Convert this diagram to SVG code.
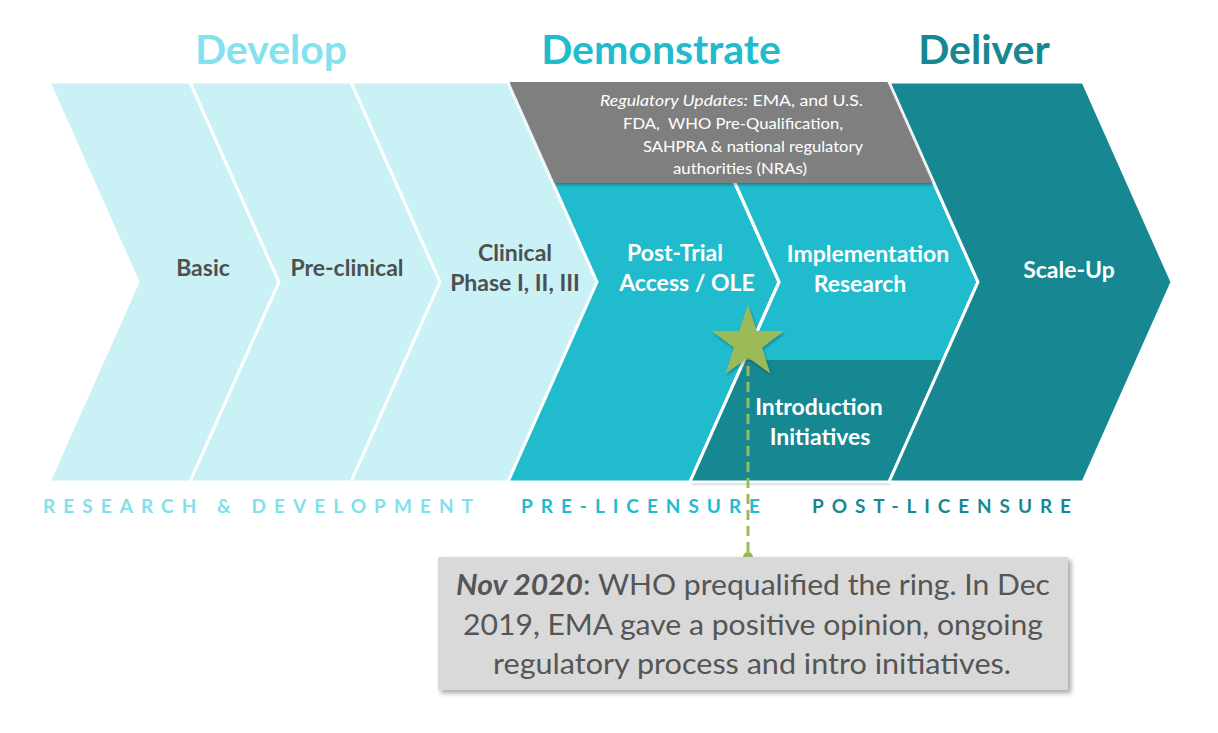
<svg xmlns="http://www.w3.org/2000/svg" width="1218" height="733" viewBox="0 0 1218 733">
  <defs>
    <filter id="shadow" x="-10%" y="-10%" width="130%" height="140%">
      <feDropShadow dx="3" dy="3" stdDeviation="2.5" flood-color="#000" flood-opacity="0.35"/>
    </filter>
    <filter id="softshadow" x="-10%" y="-10%" width="130%" height="140%">
      <feDropShadow dx="1" dy="2" stdDeviation="1.5" flood-color="#000" flood-opacity="0.3"/>
    </filter>
  </defs>
  <style>
    .light { fill: #C9F1F6; stroke: #FFFFFF; stroke-width: 3; stroke-linejoin: miter; }
    .mid { fill: #20BCCE; stroke: #FFFFFF; stroke-width: 3; }
    .dark { fill: #178892; stroke: #FFFFFF; stroke-width: 3; }
    .outline { fill: none; stroke: #FFFFFF; stroke-width: 3; }
    .hdr { font-family: Lato, "Liberation Sans", sans-serif; font-weight: bold; font-size: 41px; text-anchor: middle; }
    .lbl { font-family: Lato, "Liberation Sans", sans-serif; font-weight: bold; font-size: 23px; text-anchor: middle; }
    .dk { fill: #4F4F4F; }
    .wt { fill: #FFFFFF; }
    .reg { font-family: Lato, "Liberation Sans", sans-serif; font-size: 16px; fill: #FFFFFF; }
    .phase { font-family: Lato, "Liberation Sans", sans-serif; font-weight: bold; font-size: 19px; }
    .note { font-family: Lato, "Liberation Sans", sans-serif; font-size: 28px; fill: #555555; text-anchor: middle; }
  </style>

  <!-- Headers -->
  <g id="headers">
    <text class="hdr" x="271" y="64" fill="#84E2EE">Develop</text>
    <text class="hdr" x="661" y="64" fill="#20BCCE">Demonstrate</text>
    <text class="hdr" x="984" y="64" fill="#178892">Deliver</text>
  </g>

  <!-- Develop chevrons -->
  <g id="basic">
    <polygon class="light" points="49,82 190,82 279,282 190,482 49,482 138,282"/>
    <text class="lbl dk" x="203" y="276">Basic</text>
  </g>
  <g id="preclinical">
    <polygon class="light" points="190,82 351,82 440,282 351,482 190,482 279,282"/>
    <text class="lbl dk" x="347" y="276">Pre-clinical</text>
  </g>
  <g id="clinical">
    <polygon class="light" points="351,82 508,82 597,282 508,482 351,482 440,282"/>
    <text class="lbl dk" x="515" y="261">Clinical</text>
    <text class="lbl dk" x="515" y="291">Phase I, II, III</text>
  </g>

  <!-- Demonstrate chevrons -->
  <g id="posttrial">
    <polygon class="mid" points="508,82 690,82 779,282 690,482 508,482 597,282"/>
    <text class="lbl wt" x="675" y="261">Post-Trial</text>
    <text class="lbl wt" x="687" y="291">Access / OLE</text>
  </g>
  <g id="implementation">
    <polygon class="mid" points="690,82 889,82 978,282 889,482 690,482 779,282"/>
    <text class="lbl wt" x="868" y="262">Implementation</text>
    <text class="lbl wt" x="860" y="292">Research</text>
  </g>
  <g id="introduction">
    <polygon fill="#178892" filter="url(#softshadow)" points="744.3,360 943.3,360 889,482 690,482"/>
    <polygon class="outline" points="690,82 889,82 978,282 889,482 690,482 779,282"/>
    <text class="lbl wt" x="819" y="415">Introduction</text>
    <text class="lbl wt" x="820" y="445">Initiatives</text>
  </g>

  <!-- Deliver chevron -->
  <g id="scaleup">
    <polygon class="dark" points="889,82 1083,82 1172,282 1083,482 889,482 978,282"/>
    <text class="lbl wt" x="1069" y="278">Scale-Up</text>
  </g>

  <!-- Regulatory band -->
  <g id="regulatory">
    <polygon fill="#7F7F7F" filter="url(#softshadow)" points="509.6,82 887.4,82 932.3,183 554.6,183"/>
    <text class="reg" x="600" y="106" textLength="263" lengthAdjust="spacingAndGlyphs"><tspan font-style="italic">Regulatory Updates:</tspan> EMA, and U.S.</text>
    <text class="reg" x="623" y="129" textLength="220" lengthAdjust="spacingAndGlyphs">FDA,&#160; WHO Pre-Qualification,</text>
    <text class="reg" x="643" y="152" textLength="220" lengthAdjust="spacingAndGlyphs">SAHPRA &amp; national regulatory</text>
    <text class="reg" x="673" y="174" textLength="134" lengthAdjust="spacingAndGlyphs">authorities (NRAs)</text>
  </g>

  <!-- Phase labels -->
  <g id="phases">
    <text class="phase" x="43" y="513" fill="#80E0EC" textLength="438" lengthAdjust="spacing" letter-spacing="8">RESEARCH &amp; DEVELOPMENT</text>
    <text class="phase" x="521" y="513" fill="#20BCCE" textLength="247" lengthAdjust="spacing" letter-spacing="8">PRE-LICENSURE</text>
    <text class="phase" x="812" y="513" fill="#178892" textLength="267" lengthAdjust="spacing" letter-spacing="8">POST-LICENSURE</text>
  </g>

  <!-- Connectors -->
  <g id="connectors">
    <line x1="748" y1="350" x2="748" y2="555" stroke="#9BBB59" stroke-width="3" stroke-dasharray="10 6"/>
    <circle cx="748" cy="557" r="5" fill="#9BBB59"/>
  </g>

  <!-- Star milestone -->
  <g id="star">
    <polygon fill="#9BBB59" filter="url(#softshadow)" points="748,305 756.7,331 784,331.3 762,347.4 770.3,373.5 748,357.6 725.7,373.5 734,347.4 712,331.3 739.3,331"/>
  </g>

  <!-- Callout -->
  <g id="callout">
    <rect x="438" y="557" width="630" height="133" fill="#D9D9D9" filter="url(#shadow)"/>
    <text class="note" x="753" y="595" textLength="594" lengthAdjust="spacingAndGlyphs"><tspan font-weight="bold" font-style="italic">Nov 2020</tspan>: WHO prequalified the ring. In Dec</text>
    <text class="note" x="753" y="635" textLength="580" lengthAdjust="spacingAndGlyphs">2019, EMA gave a positive opinion, ongoing</text>
    <text class="note" x="752" y="674" textLength="518" lengthAdjust="spacingAndGlyphs">regulatory process and intro initiatives.</text>
  </g>
</svg>
